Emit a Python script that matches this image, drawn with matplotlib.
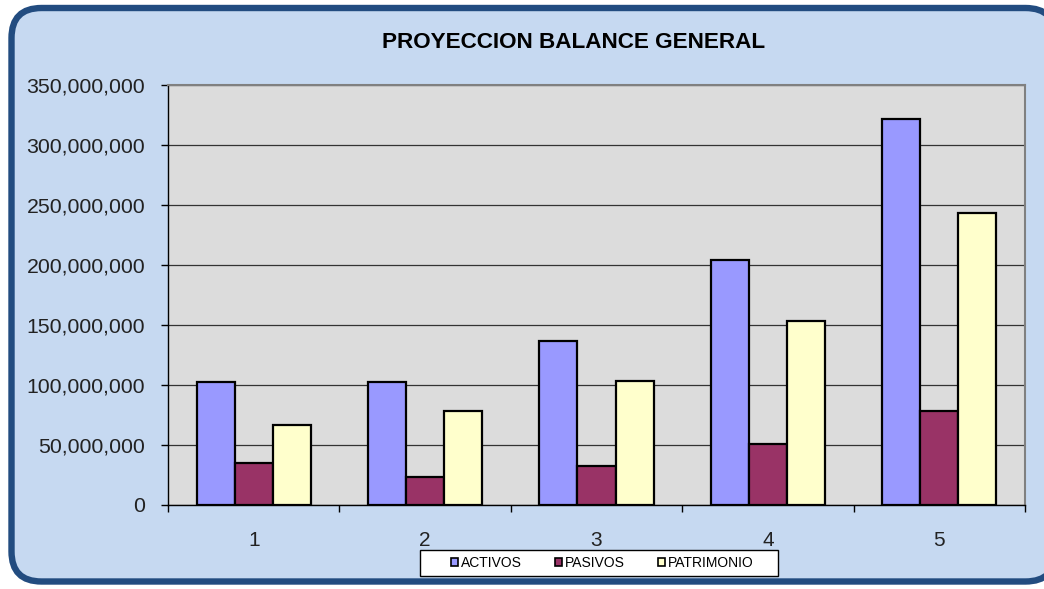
import matplotlib
matplotlib.use("Agg")
import matplotlib.pyplot as plt
import numpy as np
from matplotlib.patches import FancyBboxPatch, Rectangle
from matplotlib.ticker import FuncFormatter, MultipleLocator, FixedLocator

plt.rcParams['font.family'] = ['Liberation Sans', 'DejaVu Sans']

categories = ["1", "2", "3", "4", "5"]
activos = [102.5e6, 102.5e6, 137e6, 204e6, 322e6]
pasivos = [35e6, 23e6, 32.5e6, 51e6, 78e6]
patrimonio = [66.5e6, 78e6, 103e6, 153e6, 243e6]
series_names = ["ACTIVOS", "PASIVOS", "PATRIMONIO"]
colors = ["#9999FF", "#993366", "#FFFFCC"]

W, H = 1044, 589
fig = plt.figure(figsize=(W / 100, H / 100), dpi=100)
fig.patch.set_facecolor("white")

# background rounded frame in pixel coordinates (y measured from bottom)
bg = fig.add_axes([0, 0, 1, 1])
bg.set_xlim(0, W)
bg.set_ylim(0, H)
bg.axis("off")
frame = FancyBboxPatch((11.5, H - 581.5), 1044, 581.5 - 8,
                       boxstyle="round,pad=0,rounding_size=30",
                       facecolor="#C6D9F1", edgecolor="#224C80", linewidth=4.6)
bg.add_patch(frame)
# legend box
bg.add_patch(Rectangle((420, H - 576), 358, 26, facecolor="white",
                       edgecolor="black", linewidth=1.0, zorder=5))

ax = fig.add_axes([168 / W, 1 - 505 / H, (1025 - 168) / W, (505 - 85) / H])
ax.set_facecolor("#DCDCDC")

x = np.arange(len(categories))
bw = 0.222
data = [activos, pasivos, patrimonio]
for i, (vals, name, col) in enumerate(zip(data, series_names, colors)):
    ax.bar(x + (i - 1) * bw, vals, width=bw, color=col, edgecolor="black",
           linewidth=1.6, label=name, zorder=3)

ax.set_xlim(-0.5, len(categories) - 0.5)
ax.set_ylim(0, 350e6)
ax.yaxis.set_major_locator(MultipleLocator(50e6))
ax.yaxis.set_major_formatter(FuncFormatter(lambda v, p: f"{int(round(v)):,}"))
ax.grid(axis="y", color="#333333", linewidth=0.9, zorder=1)
ax.set_axisbelow(True)

ax.set_xticks(x)
ax.set_xticklabels(categories)
ax.xaxis.set_minor_locator(FixedLocator(np.arange(-0.5, len(categories), 1.0)))
ax.tick_params(axis="x", which="major", length=0, pad=19, labelsize=15, colors="#222222")
ax.tick_params(axis="x", which="minor", length=5, width=1, color="black", direction="out")
ax.tick_params(axis="y", which="major", length=5, width=1, pad=11.5, labelsize=15.3,
               color="black", labelcolor="#222222", direction="out")

for s in ["left", "bottom"]:
    ax.spines[s].set_color("black")
    ax.spines[s].set_linewidth(1.0)
for s in ["top", "right"]:
    ax.spines[s].set_color("#808080")
    ax.spines[s].set_linewidth(1.5)

fig.text(574 / W, 1 - 43 / H, "PROYECCION BALANCE GENERAL", ha="center", va="center",
         fontsize=16.2, fontweight="bold", color="black")

leg = fig.legend(loc="center left", bbox_to_anchor=(451 / W, 1 - 563 / H), ncol=3,
                 frameon=False, fontsize=10, handlelength=0.5, handleheight=0.5,
                 handletextpad=0.25, columnspacing=2.35, borderpad=0,
                 borderaxespad=0)
leg.set_zorder(10)
for h in leg.legend_handles:
    h.set_linewidth(1.2)

fig.savefig("out.png", dpi=100, facecolor="white")
